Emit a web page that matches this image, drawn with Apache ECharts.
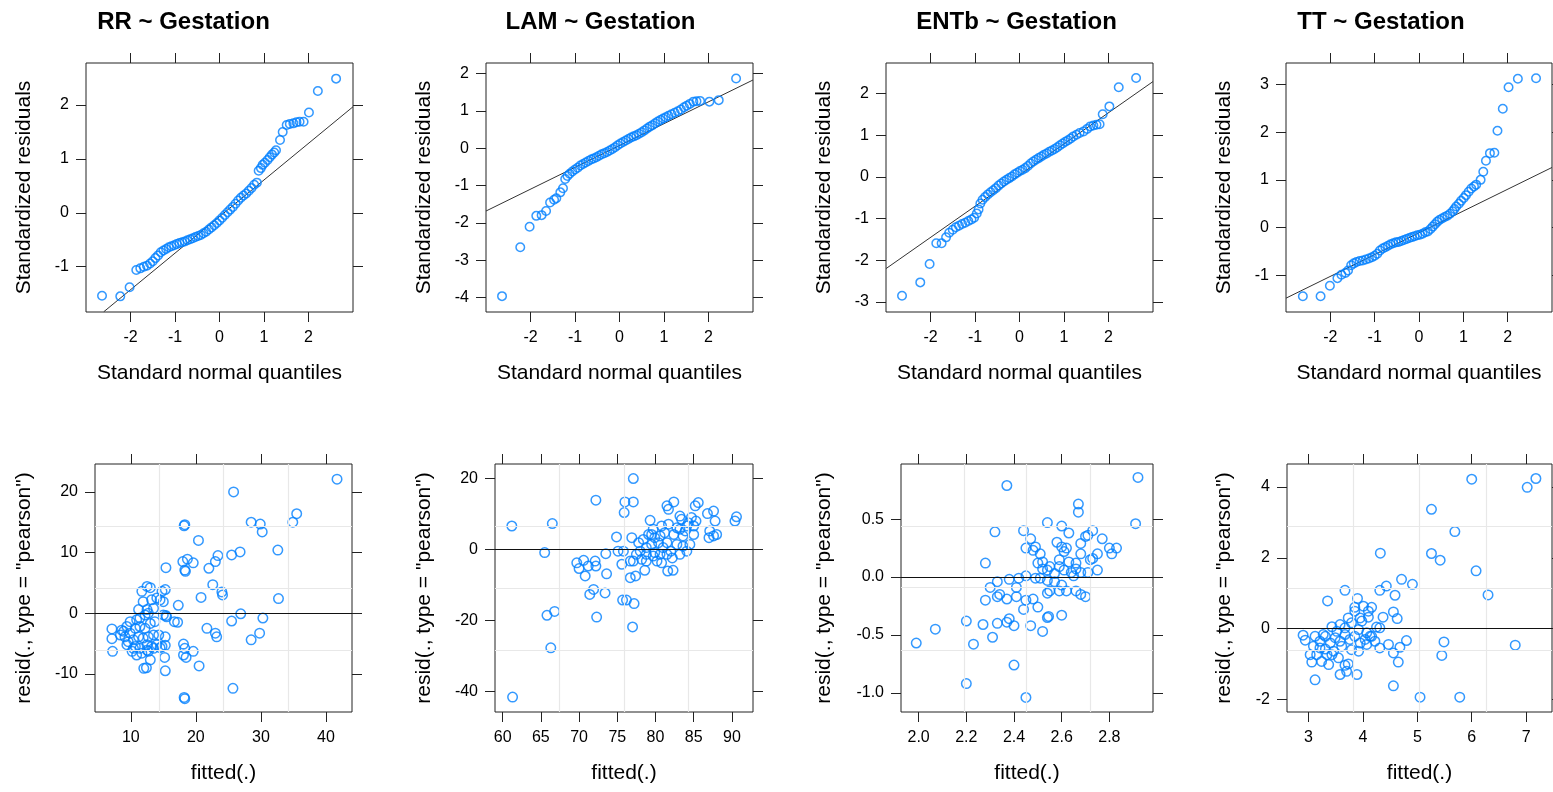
<!DOCTYPE html>
<html><head><meta charset="utf-8">
<script src="https://cdn.jsdelivr.net/npm/echarts@6/dist/echarts.min.js"></script>
<style>html,body{margin:0;padding:0;background:#fff}#c{width:1553px;height:792px}</style>
</head><body><div id="c"></div>
<script>
// ---------- text ----------
const panelNames = ['RR ~ Gestation', 'LAM ~ Gestation', 'ENTb ~ Gestation', 'TT ~ Gestation'];
const qqXLabel = 'Standard normal quantiles';
const qqYLabel = 'Standardized residuals';
const resXLabel = 'fitted(.)';
const resYLabel = 'resid(., type = "pearson")';

// ---------- tick labels ----------
const qqTicksX = [-2, -1, 0, 1, 2];
const qqTicksY_RR = [-1, 0, 1, 2];
const qqTicksY_LAM = [-4, -3, -2, -1, 0, 1, 2];
const qqTicksY_ENTb = [-3, -2, -1, 0, 1, 2];
const qqTicksY_TT = [-1, 0, 1, 2, 3];
const resTicksX_RR = [10, 20, 30, 40];
const resTicksX_LAM = [60, 65, 70, 75, 80, 85, 90];
const resTicksX_ENTb = [2.0, 2.2, 2.4, 2.6, 2.8];
const resTicksX_TT = [3, 4, 5, 6, 7];
const resTicksY_RR = [-10, 0, 10, 20];
const resTicksY_LAM = [-40, -20, 0, 20];
const resTicksY_ENTb = [-1.0, -0.5, 0.0, 0.5];
const resTicksY_TT = [-2, 0, 2, 4];

// ---------- QQ data: [theoretical quantile, standardized residual] ----------
const qqRR = [[-2.64,-1.54],[-2.23,-1.55],[-2.02,-1.38],[-1.87,-1.06],[-1.78,-1.03],[-1.70,-1.0],[-1.63,-0.98],[-1.56,-0.94],[-1.50,-0.90],[-1.44,-0.84],[-1.38,-0.79],[-1.32,-0.73],[-1.26,-0.70],[-1.20,-0.67],[-1.14,-0.64],[-1.08,-0.62],[-1.02,-0.60],[-0.96,-0.58],[-0.90,-0.56],[-0.84,-0.545],[-0.78,-0.53],[-0.72,-0.51],[-0.66,-0.49],[-0.60,-0.47],[-0.54,-0.45],[-0.48,-0.43],[-0.42,-0.41],[-0.36,-0.38],[-0.30,-0.35],[-0.24,-0.31],[-0.18,-0.27],[-0.12,-0.23],[-0.06,-0.19],[0.0,-0.14],[0.06,-0.09],[0.12,-0.04],[0.18,0.01],[0.24,0.06],[0.30,0.11],[0.36,0.17],[0.42,0.23],[0.48,0.28],[0.54,0.32],[0.60,0.36],[0.66,0.41],[0.72,0.46],[0.78,0.52],[0.84,0.56],[0.88,0.78],[0.93,0.83],[0.97,0.89],[1.02,0.93],[1.08,0.98],[1.13,1.03],[1.18,1.08],[1.23,1.12],[1.27,1.16],[1.36,1.35],[1.42,1.50],[1.51,1.63],[1.58,1.65],[1.66,1.66],[1.73,1.68],[1.80,1.69],[1.89,1.69],[2.01,1.86],[2.21,2.26],[2.62,2.49]];
const qqLAM = [[-2.64,-3.96],[-2.23,-2.65],[-2.02,-2.10],[-1.87,-1.81],[-1.75,-1.79],[-1.65,-1.68],[-1.56,-1.45],[-1.47,-1.38],[-1.42,-1.34],[-1.33,-1.18],[-1.27,-1.07],[-1.22,-0.82],[-1.17,-0.74],[-1.12,-0.68],[-1.06,-0.62],[-1.0,-0.57],[-0.94,-0.52],[-0.88,-0.46],[-0.82,-0.42],[-0.76,-0.38],[-0.70,-0.34],[-0.64,-0.30],[-0.58,-0.27],[-0.52,-0.24],[-0.46,-0.20],[-0.40,-0.16],[-0.34,-0.13],[-0.28,-0.10],[-0.22,-0.06],[-0.16,-0.02],[-0.10,0.03],[-0.04,0.08],[0.02,0.13],[0.08,0.17],[0.14,0.21],[0.20,0.25],[0.26,0.29],[0.32,0.32],[0.38,0.35],[0.44,0.39],[0.50,0.43],[0.56,0.48],[0.62,0.53],[0.68,0.58],[0.74,0.62],[0.80,0.67],[0.86,0.72],[0.92,0.76],[0.98,0.80],[1.04,0.83],[1.10,0.87],[1.17,0.91],[1.24,0.95],[1.31,0.99],[1.38,1.04],[1.45,1.10],[1.51,1.14],[1.58,1.19],[1.66,1.25],[1.73,1.26],[1.81,1.27],[2.02,1.25],[2.23,1.29],[2.62,1.87]];
const qqENTb = [[-2.64,-2.85],[-2.23,-2.53],[-2.02,-2.09],[-1.87,-1.59],[-1.75,-1.59],[-1.65,-1.45],[-1.58,-1.34],[-1.50,-1.27],[-1.43,-1.21],[-1.36,-1.17],[-1.29,-1.13],[-1.22,-1.10],[-1.15,-1.06],[-1.08,-1.02],[-1.02,-0.98],[-0.96,-0.88],[-0.92,-0.78],[-0.88,-0.64],[-0.83,-0.55],[-0.77,-0.48],[-0.71,-0.42],[-0.65,-0.37],[-0.59,-0.32],[-0.53,-0.27],[-0.47,-0.21],[-0.41,-0.16],[-0.35,-0.11],[-0.29,-0.07],[-0.23,-0.03],[-0.17,0.01],[-0.11,0.06],[-0.05,0.10],[0.01,0.14],[0.07,0.17],[0.13,0.21],[0.19,0.26],[0.25,0.32],[0.31,0.37],[0.37,0.41],[0.43,0.45],[0.49,0.49],[0.55,0.53],[0.61,0.56],[0.67,0.60],[0.73,0.63],[0.79,0.67],[0.85,0.71],[0.91,0.76],[0.97,0.80],[1.03,0.84],[1.09,0.88],[1.15,0.92],[1.21,0.97],[1.28,1.01],[1.35,1.05],[1.44,1.09],[1.52,1.15],[1.59,1.21],[1.66,1.23],[1.73,1.25],[1.80,1.26],[1.87,1.50],[2.02,1.69],[2.23,2.15],[2.62,2.37]];
const qqTT = [[-2.62,-1.44],[-2.22,-1.44],[-2.01,-1.22],[-1.84,-1.06],[-1.75,-0.99],[-1.66,-0.95],[-1.60,-0.90],[-1.53,-0.79],[-1.47,-0.75],[-1.41,-0.72],[-1.34,-0.70],[-1.27,-0.69],[-1.20,-0.67],[-1.13,-0.65],[-1.06,-0.62],[-1.0,-0.59],[-0.94,-0.55],[-0.88,-0.48],[-0.82,-0.44],[-0.76,-0.41],[-0.70,-0.38],[-0.64,-0.35],[-0.58,-0.33],[-0.52,-0.31],[-0.46,-0.30],[-0.40,-0.28],[-0.34,-0.26],[-0.28,-0.24],[-0.22,-0.22],[-0.16,-0.20],[-0.10,-0.18],[-0.04,-0.16],[0.02,-0.15],[0.08,-0.13],[0.14,-0.10],[0.20,-0.08],[0.26,-0.03],[0.31,0.02],[0.36,0.07],[0.41,0.12],[0.46,0.16],[0.52,0.19],[0.58,0.22],[0.64,0.25],[0.70,0.29],[0.76,0.34],[0.80,0.39],[0.84,0.44],[0.90,0.50],[0.95,0.56],[1.01,0.62],[1.06,0.68],[1.12,0.75],[1.18,0.82],[1.24,0.86],[1.29,0.90],[1.39,1.0],[1.45,1.17],[1.51,1.40],[1.60,1.56],[1.70,1.57],[1.77,2.03],[1.89,2.49],[2.02,2.94],[2.23,3.12],[2.64,3.13]];

// QQ reference lines (two points)
const qqLineRR = [[-2.6,-1.835],[3.0,1.968]];
const qqLineLAM = [[-3.0,-1.68],[3.0,1.83]];
const qqLineENTb = [[-3.0,-2.20],[3.0,2.285]];
const qqLineTT = [[-3.0,-1.48],[3.0,1.26]];

// ---------- residual vs fitted data: [fitted, pearson residual] ----------
const resRR = [[41.7,22.1],[25.8,20.0],[35.5,16.4],[34.9,15.0],[28.5,15.0],[29.9,14.7],[30.2,13.4],[18.3,14.6],[18.2,14.4],[20.4,12.0],[32.6,10.4],[25.5,9.6],[26.8,10.1],[23.4,9.5],[23.0,8.5],[22.0,7.4],[18.0,8.5],[18.7,8.9],[19.6,8.3],[18.4,6.9],[18.3,7.1],[15.4,7.5],[22.6,4.7],[24.0,3.5],[24.1,3.0],[20.8,2.6],[32.7,2.4],[17.3,1.3],[26.9,-0.1],[25.5,-1.3],[30.3,-0.8],[29.8,-3.3],[28.5,-4.4],[21.7,-2.5],[23.0,-3.3],[23.2,-3.9],[16.7,-1.4],[17.2,-1.5],[15.4,-0.4],[18.1,-5.1],[18.3,-5.8],[18.1,-6.9],[18.5,-7.3],[19.6,-6.3],[20.5,-8.7],[15.2,-7.3],[15.3,-9.5],[13.0,-7.7],[12.0,-9.1],[12.4,-9.0],[25.7,-12.4],[18.2,-13.9],[18.3,-14.1],[7.1,-2.6],[7.1,-4.2],[7.2,-6.3],[10.2,-6.3],
[11.7,3.6],[12.5,4.4],[13.0,4.2],[11.9,1.9],[13.2,2.2],[14.0,2.5],[14.8,3.6],[15.3,3.9],[14.5,2.2],[15.0,1.9],[13.5,0.8],[12.5,0.6],[11.2,0.6],[11.4,-0.8],[12.2,-0.3],[12.7,0.0],[10.9,-1.1],[9.9,-1.4],[9.4,-2.2],[8.9,-3.0],[9.1,-3.9],[9.9,-3.3],[10.7,-2.5],[11.4,-2.2],[12.2,-2.5],[13.0,-1.7],[13.7,-1.4],[15.0,-0.3],[15.5,-0.6],[9.6,-4.7],[10.4,-4.4],[11.2,-3.9],[11.9,-4.1],[12.7,-3.9],[13.5,-3.6],[14.3,-3.6],[15.3,-3.9],[9.4,-5.2],[10.7,-5.5],[11.4,-5.8],[12.5,-5.2],[13.2,-5.5],[14.0,-5.2],[14.8,-5.5],[15.3,-5.3],[10.9,-6.9],[11.7,-6.6],[12.5,-6.1],[13.5,-5.8],[14.5,-5.7],[12.7,-6.3],[10.4,-5.8],[8.4,-3.6],[8.6,-2.8]];
const resLAM = [[61.2,6.6],[61.3,-41.7],[66.5,7.3],[65.5,-0.9],[65.8,-18.6],[66.8,-17.5],[66.3,-27.8],[72.2,13.9],[72.3,-19.1],[69.7,-3.8],[70.0,-5.4],[70.6,-3.1],[70.8,-7.5],[71.2,-4.7],[72.1,-3.3],[72.2,-4.7],[73.5,-1.2],[73.6,-6.9],[71.9,-11.3],[71.4,-12.7],[73.4,-12.3],[74.9,3.5],[75.1,-0.5],[75.8,-0.5],[75.6,-4.2],[76.0,13.4],[77.1,13.4],[77.1,20.0],[75.9,10.4],[75.7,-14.3],[76.2,-14.3],[77.2,-15.3],[77.0,-21.9],[76.7,-8.0],[77.4,-7.5],[76.9,3.3],[77.1,-3.3],[77.8,1.9],[78.2,-2.8],[78.6,-5.9],[78.4,2.8],[79.3,8.2],[79.1,4.2],[78.8,-1.4],[79.5,1.4],[79.7,5.7],[79.9,-0.9],[80.2,-3.3],[80.6,3.8],[80.8,6.6],[81.0,0.5],[81.2,4.7],[81.5,12.3],[81.7,11.3],[82.4,13.4],[81.6,-6.1],[82.3,-5.9],[82.0,-0.5],[82.2,-2.4],[82.4,4.2],[81.7,7.1],[82.8,1.4],[83.2,9.4],[83.4,8.5],[83.6,3.8],[83.9,5.2],[84.1,-0.5],[84.3,7.5],[84.5,1.4],[85.0,4.2],[85.2,12.3],[85.6,13.2],[85.3,8.0],[84.7,9.0],[86.8,10.1],[87.6,10.8],[87.8,8.0],[87.6,3.8],[88.0,4.2],[87.1,5.2],[87.0,3.3],[90.4,8.0],[90.6,9.2],[78.8,0.5],[79.7,-1.9],[80.6,-1.4],[81.5,-1.4],[83.2,-1.4],[80.8,-3.8],[77.5,-1.4],[78.0,-0.5],[80.4,1.9],[83.2,5.7],[84.1,6.6],[79.9,3.3],[81.5,1.9],[83.6,0.9],[85.0,6.6],[82.8,6.1],[78.8,-3.3],[76.7,-3.3],[79.5,4.2]];
const resENTb = [[1.99,-0.57],[2.07,-0.45],[2.20,-0.38],[2.20,-0.92],[2.23,-0.58],[2.27,-0.41],[2.28,0.12],[2.31,-0.52],[2.33,-0.40],[2.32,0.39],[2.37,0.79],[2.40,-0.76],[2.45,-1.04],[2.28,-0.20],[2.30,-0.09],[2.33,-0.04],[2.33,-0.17],[2.34,-0.15],[2.37,-0.19],[2.38,-0.02],[2.38,-0.36],[2.37,-0.39],[2.41,-0.09],[2.41,-0.17],[2.40,-0.42],[2.42,-0.01],[2.44,-0.28],[2.45,-0.20],[2.47,-0.42],[2.48,-0.19],[2.50,-0.26],[2.52,-0.47],[2.54,-0.35],[2.545,-0.34],[2.60,-0.33],[2.44,0.40],[2.47,0.33],[2.45,0.25],[2.48,0.23],[2.49,0.26],[2.54,0.47],[2.51,0.20],[2.52,0.13],[2.52,0.07],[2.54,0.06],[2.55,0.09],[2.45,0.01],[2.49,-0.01],[2.51,-0.01],[2.54,-0.03],[2.57,-0.04],[2.55,-0.12],[2.54,-0.14],[2.59,-0.12],[2.60,-0.07],[2.62,-0.12],[2.60,0.44],[2.63,0.38],[2.58,0.30],[2.60,0.26],[2.61,0.22],[2.62,0.25],[2.59,0.15],[2.59,0.09],[2.63,0.13],[2.64,0.04],[2.61,0.06],[2.66,0.07],[2.66,-0.12],[2.68,-0.15],[2.70,-0.17],[2.65,0.01],[2.68,0.04],[2.67,0.63],[2.67,0.56],[2.68,0.29],[2.68,0.20],[2.70,0.35],[2.71,0.36],[2.72,0.15],[2.73,0.40],[2.73,0.16],[2.75,0.06],[2.75,0.20],[2.77,0.33],[2.80,0.25],[2.81,0.20],[2.83,0.25],[2.91,0.46],[2.92,0.86],[2.71,0.04],[2.66,0.12],[2.57,0.03],[2.50,0.12]];
const resTT = [[6.0,4.22],[7.02,3.99],[7.18,4.24],[5.26,3.37],[5.69,2.74],[5.26,2.12],[5.42,1.93],[6.08,1.63],[6.30,0.95],[4.32,2.13],[6.80,-0.47],[5.49,-0.38],[5.45,-0.76],[4.56,-1.62],[5.05,-1.94],[5.78,-1.94],[3.35,0.78],[3.67,1.08],[3.90,0.85],[4.31,1.08],[4.43,1.20],[4.71,1.39],[4.91,1.25],[4.59,0.94],[3.85,0.60],[4.01,0.63],[4.16,0.60],[4.56,0.47],[4.63,0.28],[4.37,0.32],[3.73,0.30],[3.95,0.30],[4.10,0.32],[3.43,0.05],[3.58,0.11],[3.79,0.16],[3.98,0.21],[4.25,0.04],[4.31,0.02],[2.90,-0.19],[2.94,-0.33],[3.12,-0.22],[3.09,-0.50],[3.06,-0.95],[3.12,-1.45],[3.21,-0.36],[3.31,-0.22],[3.40,-0.41],[3.49,-0.26],[3.58,-0.36],[3.67,-0.17],[3.76,-0.31],[3.85,-0.22],[3.95,-0.41],[4.04,-0.31],[4.13,-0.22],[4.22,-0.36],[4.31,-0.55],[4.47,-0.45],[4.56,-0.69],[4.65,-0.95],[4.68,-0.53],[4.80,-0.34],[3.15,-0.74],[3.24,-0.93],[3.34,-0.74],[3.37,-1.02],[3.31,-0.58],[3.46,-0.64],[3.55,-0.83],[3.58,-1.30],[3.67,-1.04],[3.73,-1.00],[3.70,-1.21],[3.89,-1.30],[3.79,-0.60],[3.92,-0.64],[4.07,-0.45],[4.16,-0.22],[3.27,-0.17],[3.52,-0.08],[3.67,0.02],[3.92,-0.03],[4.07,-0.12],[3.03,-0.74],[3.21,-0.55],[3.61,-0.50],[3.43,-0.74],[3.85,0.49],[4.10,0.49]];

// ---------- layout (pixels / axis extents) ----------
const FONT = '"Liberation Sans", Arial, Helvetica, sans-serif';
const PT = '#0080ff';
const qqPanels = [
  {data: qqRR, line: qqLineRR, ty: qqTicksY_RR, yr: [-1.84, 2.78], left: 86},
  {data: qqLAM, line: qqLineLAM, ty: qqTicksY_LAM, yr: [-4.385, 2.285], left: 486},
  {data: qqENTb, line: qqLineENTb, ty: qqTicksY_ENTb, yr: [-3.24, 2.73], left: 886},
  {data: qqTT, line: qqLineTT, ty: qqTicksY_TT, yr: [-1.77, 3.45], left: 1286}
];
const resPanels = [
  {data: resRR, tx: resTicksX_RR, ty: resTicksY_RR, xr: [4.5, 44.0], yr: [-16.3, 24.6], left: 95, width: 257, dx: 0, dy: 0},
  {data: resLAM, tx: resTicksX_LAM, ty: resTicksY_LAM, xr: [59.0, 92.76], yr: [-45.9, 24.1], left: 495, width: 258, dx: 0, dy: 0},
  {data: resENTb, tx: resTicksX_ENTb, ty: resTicksY_ENTb, xr: [1.926, 2.983], yr: [-1.1655, 0.9757], left: 901, width: 252, dx: 1, dy: 1},
  {data: resTT, tx: resTicksX_TT, ty: resTicksY_TT, xr: [2.604, 7.476], yr: [-2.36, 4.65], left: 1287, width: 265, dx: 0, dy: 0}
];
const titleX = [183.5, 600.5, 1016.5, 1381];

const grids = [], xAxes = [], yAxes = [], series = [], graphics = [];

function addAxes(gi, xr, yr, tx, ty, dx, dy) {
  const tick = (vals) => ({show: true, inside: false, length: 10, customValues: vals, lineStyle: {color: '#222', width: 1}});
  const lab = (vals, d, margin) => ({show: true, customValues: vals, margin: margin, fontSize: 16, color: '#000', fontFamily: FONT,
    formatter: (v) => Number(v).toFixed(d)});
  xAxes.push({gridIndex: gi, type: 'value', position: 'bottom', min: xr[0], max: xr[1],
    axisLine: {show: false, onZero: false}, axisTick: tick(tx), axisLabel: lab(tx, dx, 18), splitLine: {show: false}});
  xAxes.push({gridIndex: gi, type: 'value', position: 'top', min: xr[0], max: xr[1],
    axisLine: {show: false, onZero: false}, axisTick: tick(tx), axisLabel: {show: false}, splitLine: {show: false}});
  yAxes.push({gridIndex: gi, type: 'value', position: 'left', min: yr[0], max: yr[1],
    axisLine: {show: false, onZero: false}, axisTick: tick(ty), axisLabel: lab(ty, dy, 17), splitLine: {show: false}});
  yAxes.push({gridIndex: gi, type: 'value', position: 'right', min: yr[0], max: yr[1],
    axisLine: {show: false, onZero: false}, axisTick: tick(ty), axisLabel: {show: false}, splitLine: {show: false}});
}

function txt(x, y, text, size, bold, rot) {
  graphics.push({type: 'text', x: x, y: y, rotation: rot || 0, silent: true,
    style: {text: text, fontSize: size, fontWeight: bold ? 'bold' : 'normal', fontFamily: FONT, fill: '#000',
      align: 'center', verticalAlign: 'middle', textAlign: 'center', textVerticalAlign: 'middle'}});
}

qqPanels.forEach((p, i) => {
  const gi = grids.length;
  const w = i === 3 ? 266 : 267;
  grids.push({left: p.left, top: 63, width: w, height: 249, show: true, borderColor: '#222', borderWidth: 1, backgroundColor: 'transparent'});
  addAxes(gi, [-3, 3], p.yr, qqTicksX, p.ty, 0, 0);
  series.push({type: 'line', xAxisIndex: 2 * gi, yAxisIndex: 2 * gi, data: p.line, showSymbol: false, symbol: 'none',
    lineStyle: {color: '#333', width: 1}, clip: true, silent: true, z: 2});
  series.push({type: 'scatter', xAxisIndex: 2 * gi, yAxisIndex: 2 * gi, data: p.data, symbol: 'circle', symbolSize: 8.5,
    itemStyle: {color: 'rgba(0,0,0,0)', borderColor: PT, borderWidth: 1.5}, silent: true, z: 3});
  txt(titleX[i], 22, panelNames[i], 24, true);
  txt(p.left + w / 2, 373, qqXLabel, 21, false);
  txt(24 + 400 * i, 187.5, qqYLabel, 21, false, Math.PI / 2);
});

resPanels.forEach((p, i) => {
  const gi = grids.length;
  grids.push({left: p.left, top: 464, width: p.width, height: 248, show: true, borderColor: '#222', borderWidth: 1, backgroundColor: 'transparent'});
  addAxes(gi, p.xr, p.yr, p.tx, p.ty, p.dx, p.dy);
  const gl = {color: '#e8e8e8', width: 1.2, type: 'solid'};
  const ml = [];
  for (let k = 1; k < 4; k++) {
    ml.push({xAxis: p.xr[0] + k * (p.xr[1] - p.xr[0]) / 4, lineStyle: gl});
    ml.push({yAxis: p.yr[0] + k * (p.yr[1] - p.yr[0]) / 4, lineStyle: gl});
  }
  ml.push({yAxis: 0, lineStyle: {color: '#111', width: 1, type: 'solid'}});
  series.push({type: 'scatter', xAxisIndex: 2 * gi, yAxisIndex: 2 * gi, data: p.data, symbol: 'circle', symbolSize: 9.5,
    itemStyle: {color: 'rgba(0,0,0,0)', borderColor: PT, borderWidth: 1.5}, silent: true, z: 3,
    markLine: {silent: true, symbol: 'none', label: {show: false}, animation: false, emphasis: {disabled: true}, data: ml}});
  txt(p.left + p.width / 2, 773, resXLabel, 21, false);
  txt(24 + 400 * i, 588, resYLabel, 21, false, Math.PI / 2);
});

const chart = echarts.init(document.getElementById('c'), null, {renderer: 'canvas'});
chart.setOption({
  animation: false,
  backgroundColor: '#fff',
  grid: grids,
  xAxis: xAxes,
  yAxis: yAxes,
  series: series,
  graphic: {elements: graphics}
});
</script>
</body></html>
